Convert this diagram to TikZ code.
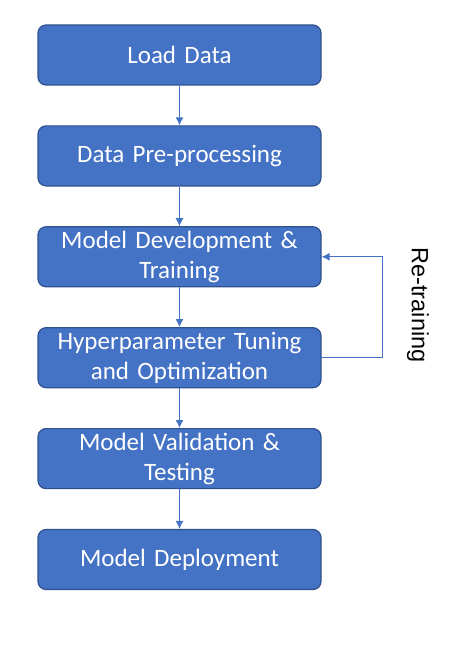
\documentclass[tikz,border=0pt]{standalone}
\usepackage{fontspec}
\setmainfont{Carlito}
\newfontfamily\labelfont{Liberation Sans}
\usepackage{xcolor}
\usetikzlibrary{positioning,arrows.meta}
\definecolor{boxblue}{HTML}{4472C4}
\definecolor{boxline}{HTML}{2F528F}

\begin{document}
\begin{tikzpicture}[>={Latex[length=8pt,width=8pt]},x=1pt,y=1pt,
    node distance=39.7pt,
    stage/.style={draw=boxline,line width=1.2pt,fill=boxblue,rounded corners=8pt,
        minimum width=283pt,minimum height=60pt,text width=280pt,align=center,
        text=white,font=\fontsize{25}{30}\selectfont,inner sep=0pt},
    flow/.style={->,draw=boxblue,line width=1pt}
]
\useasboundingbox (0,0) rectangle (469,-650);
\node[stage] (load) at (179.5,-55) {Load Data};
\node[stage,below=of load] (prep) {Data Pre-processing};
\node[stage,below=of prep] (dev) {Model Development \&\\ Training};
\node[stage,below=of dev] (tune) {Hyperparameter Tuning\\ and Optimization};
\node[stage,below=of tune] (valid) {Model Validation \&\\ Testing};
\node[stage,below=of valid] (deploy) {Model Deployment};
\foreach \a/\b in {load/prep,prep/dev,dev/tune,tune/valid,valid/deploy}
    \draw[flow] (\a) -- (\b);
% feedback loop
\coordinate (loop) at (382,0);
\draw[flow] (tune.east) -- (tune.east -| loop) |- (dev.east);
\node[rotate=-90,font=\labelfont\fontsize{23.5}{26}\selectfont] (retrain) at (418,-305) {Re-training};
\end{tikzpicture}
\end{document}
